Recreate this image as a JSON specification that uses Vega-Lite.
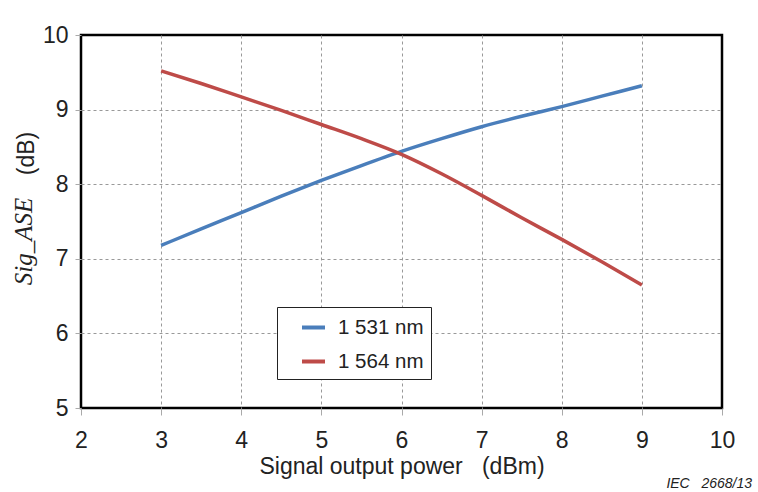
{
  "$schema": "https://vega.github.io/schema/vega-lite/v6.json",
  "width": 641,
  "height": 373,
  "autosize": {"type": "none"},
  "padding": {"left": 81, "top": 35, "right": 36, "bottom": 84},
  "background": "white",
  "config": {
    "font": "Liberation Sans",
    "view": {"stroke": "black", "strokeWidth": 2.5}
  },
  "title": {
    "text": "Sig_ASE",
    "orient": "left",
    "anchor": "middle",
    "baseline": "alphabetic",
    "font": "Liberation Serif",
    "fontStyle": "italic",
    "fontWeight": "normal",
    "fontSize": 25,
    "color": "#222222",
    "offset": -42,
    "dx": -20
  },
  "data": {
    "values": [
      {"p": 3, "v": 7.18, "s": "1 531 nm"},
      {"p": 3.5, "v": 7.40, "s": "1 531 nm"},
      {"p": 4, "v": 7.62, "s": "1 531 nm"},
      {"p": 4.5, "v": 7.84, "s": "1 531 nm"},
      {"p": 5, "v": 8.05, "s": "1 531 nm"},
      {"p": 5.5, "v": 8.25, "s": "1 531 nm"},
      {"p": 6, "v": 8.44, "s": "1 531 nm"},
      {"p": 6.5, "v": 8.61, "s": "1 531 nm"},
      {"p": 7, "v": 8.77, "s": "1 531 nm"},
      {"p": 7.5, "v": 8.91, "s": "1 531 nm"},
      {"p": 8, "v": 9.04, "s": "1 531 nm"},
      {"p": 8.5, "v": 9.18, "s": "1 531 nm"},
      {"p": 9, "v": 9.32, "s": "1 531 nm"},
      {"p": 3, "v": 9.52, "s": "1 564 nm"},
      {"p": 3.5, "v": 9.35, "s": "1 564 nm"},
      {"p": 4, "v": 9.17, "s": "1 564 nm"},
      {"p": 4.5, "v": 8.99, "s": "1 564 nm"},
      {"p": 5, "v": 8.80, "s": "1 564 nm"},
      {"p": 5.5, "v": 8.61, "s": "1 564 nm"},
      {"p": 6, "v": 8.40, "s": "1 564 nm"},
      {"p": 6.5, "v": 8.14, "s": "1 564 nm"},
      {"p": 7, "v": 7.85, "s": "1 564 nm"},
      {"p": 7.5, "v": 7.55, "s": "1 564 nm"},
      {"p": 8, "v": 7.26, "s": "1 564 nm"},
      {"p": 8.5, "v": 6.96, "s": "1 564 nm"},
      {"p": 9, "v": 6.65, "s": "1 564 nm"}
    ]
  },
  "layer": [
    {
      "mark": {"type": "line", "strokeWidth": 3.5, "interpolate": "monotone"},
      "encoding": {
        "x": {
          "field": "p", "type": "quantitative",
          "scale": {"domain": [2, 10], "nice": false, "zero": false},
          "axis": {
            "values": [2, 3, 4, 5, 6, 7, 8, 9, 10],
            "format": "d",
            "labelFlush": false,
            "title": "Signal output power\u00a0\u00a0\u00a0(dBm)",
            "titleFont": "Liberation Sans", "titleFontSize": 23, "titleFontWeight": "normal", "titleColor": "#222222",
            "titlePadding": 3,
            "labelFontSize": 23, "labelColor": "#222222", "labelPadding": 14,
            "domain": false, "tickColor": "#aaaaaa", "tickSize": 7,
            "grid": true, "gridColor": "#999999", "gridDash": [3, 3], "gridWidth": 1,
            "gridOpacity": {"condition": {"test": "datum.value == 2 || datum.value == 10", "value": 0}, "value": 1}
          }
        },
        "y": {
          "field": "v", "type": "quantitative",
          "scale": {"domain": [5, 10], "nice": false, "zero": false},
          "axis": {
            "values": [5, 6, 7, 8, 9, 10],
            "format": "d",
            "labelFlush": false,
            "title": "(dB)",
            "titleFont": "Liberation Sans", "titleFontSize": 23, "titleFontWeight": "normal", "titleColor": "#222222",
            "titleY": 118, "titleX": -43,
            "labelFontSize": 23, "labelColor": "#222222", "labelPadding": 7,
            "domain": false, "tickColor": "#aaaaaa", "tickSize": 6,
            "grid": true, "gridColor": "#999999", "gridDash": [3, 3], "gridWidth": 1,
            "gridOpacity": {"condition": {"test": "datum.value == 5 || datum.value == 10", "value": 0}, "value": 1}
          }
        },
        "color": {
          "field": "s", "type": "nominal",
          "scale": {"domain": ["1 531 nm", "1 564 nm"], "range": ["#4a7ebb", "#be4b48"]},
          "legend": {
            "title": null,
            "orient": "none", "legendX": 196, "legendY": 272,
            "symbolType": "stroke", "symbolSize": 529, "symbolStrokeWidth": 4, "symbolOffset": 16,
            "labelFontSize": 20.5, "labelColor": "#222222", "labelOffset": 11,
            "rowPadding": 10, "padding": 7,
            "strokeColor": "#222222", "fillColor": "white"
          }
        }
      }
    },
    {
      "data": {"values": [{"note": "IEC\u00a0\u00a0\u00a02668/13"}]},
      "mark": {"type": "text", "align": "right", "baseline": "alphabetic", "fontStyle": "italic", "fontSize": 14, "color": "#222222", "dx": 30, "dy": 80},
      "encoding": {
        "x": {"datum": 10, "type": "quantitative"},
        "y": {"datum": 5, "type": "quantitative"},
        "text": {"field": "note"}
      }
    }
  ]
}
